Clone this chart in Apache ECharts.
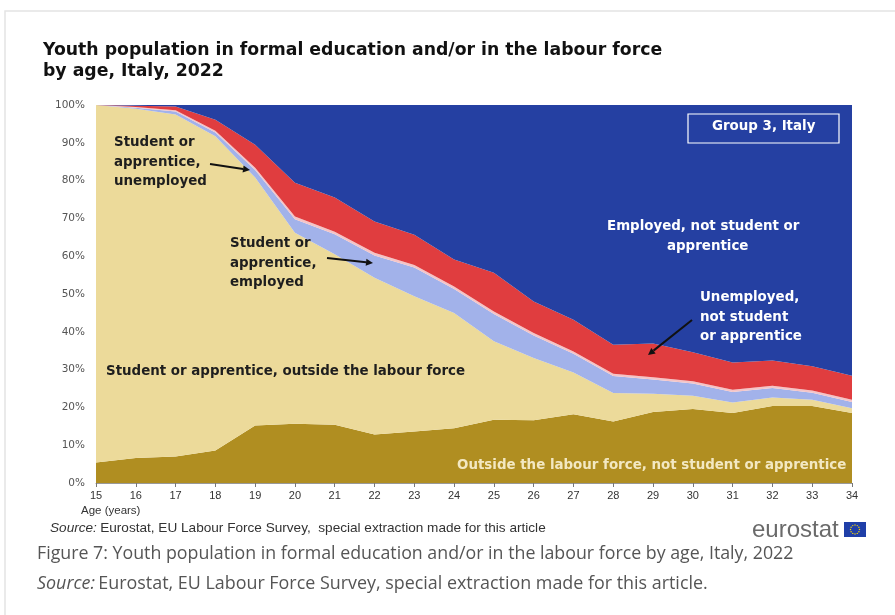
<!DOCTYPE html>
<html>
<head>
<meta charset="utf-8">
<script src="https://cdn.jsdelivr.net/npm/echarts@6/dist/echarts.min.js"></script>
<style>
  html, body { margin: 0; padding: 0; background: #fff; }
  #chart { width: 895px; height: 615px; }
</style>
</head>
<body>
<div id="chart"></div>
<script>
// ages on the x axis
var ages = ['15', '16', '17', '18', '19', '20', '21', '22', '23', '24', '25', '26', '27', '28', '29', '30', '31', '32', '33', '34'];

// shares in % (stacked bottom -> top)
var outsideNotStudent = [5.4, 6.6, 7.0, 8.6, 15.2, 15.7, 15.4, 12.8, 13.6, 14.5, 16.7, 16.6, 18.2, 16.3, 18.8, 19.6, 18.5, 20.4, 20.4, 18.5];
var studentOutside    = [94.6, 92.4, 90.5, 83.1, 65.6, 50.5, 45.1, 41.5, 35.8, 30.5, 20.8, 16.5, 11.0, 7.5, 4.8, 3.5, 2.8, 2.2, 1.6, 1.3];
var studentEmployed   = [0, 0.3, 0.8, 1.0, 2.0, 3.6, 5.3, 5.9, 7.6, 6.3, 7.2, 5.9, 5.0, 4.5, 3.8, 3.2, 2.8, 2.5, 1.9, 1.6];
var studentUnemployed = [0, 0.2, 0.3, 0.5, 0.6, 0.7, 0.7, 0.7, 0.7, 0.7, 0.7, 0.7, 0.6, 0.6, 0.6, 0.6, 0.6, 0.6, 0.6, 0.6];
var unemployedNotStudent = [0, 0.3, 1.0, 2.9, 6.1, 8.9, 9.0, 8.3, 8.0, 7.1, 10.2, 8.3, 8.4, 7.7, 8.9, 7.7, 7.2, 6.7, 6.4, 6.4];
var employedNotStudent   = [0, 0.2, 0.4, 3.9, 10.5, 20.6, 24.5, 30.8, 34.3, 40.9, 44.4, 52.0, 56.8, 63.4, 63.1, 65.4, 68.1, 67.6, 69.1, 71.6];

var yTicks = [0, 10, 20, 30, 40, 50, 60, 70, 80, 90, 100];

var chart = echarts.init(document.getElementById('chart'));

function layer(name, data, color) {
    return {
        name: name,
        type: 'line',
        stack: 'total',
        data: data,
        symbol: 'none',
        smooth: false,
        lineStyle: { width: 0 },
        areaStyle: { color: color, opacity: 1 },
        itemStyle: { color: color },
        emphasis: { disabled: true },
        z: 2
    };
}

// little arrow: line + head
function arrow(x1, y1, x2, y2) {
    var a = Math.atan2(y2 - y1, x2 - x1);
    var L = 7, W = 3.5;
    var bx = x2 - L * Math.cos(a), by = y2 - L * Math.sin(a);
    return [{
        type: 'line',
        shape: { x1: x1, y1: y1, x2: bx, y2: by },
        style: { stroke: '#111', lineWidth: 2 },
        z: 20
    }, {
        type: 'polygon',
        shape: { points: [[x2, y2], [bx + W * Math.sin(a), by - W * Math.cos(a)], [bx - W * Math.sin(a), by + W * Math.cos(a)]] },
        style: { fill: '#111' },
        z: 20
    }];
}

var annFont = 'bold 13.4px "DejaVu Sans", Verdana, sans-serif';

function label(x, y, txt, color) {
    return {
        type: 'text',
        left: x, top: y,
        style: {
            text: txt,
            font: annFont,
            fill: color,
            lineHeight: 19.5
        },
        z: 20
    };
}

// EU flag stars
var stars = [];
for (var i = 0; i < 12; i++) {
    var ang = i * Math.PI / 6;
    stars.push({
        type: 'circle',
        shape: { cx: 855 + 4.5 * Math.cos(ang), cy: 529.5 + 4.5 * Math.sin(ang), r: 0.7 },
        style: { fill: '#ffdd00' },
        z: 21
    });
}

var graphics = [
    // outer frame
    { type: 'rect', shape: { x: 5, y: 11, width: 1000, height: 700 }, style: { fill: 'none', stroke: '#e4e4e4', lineWidth: 1.5 }, z: 0 },
    { type: 'text', left: 43, top: 40, style: { text: 'Youth population in formal education and/or in the labour force\nby age, Italy, 2022', font: 'bold 17.3px "DejaVu Sans", Verdana, sans-serif', fill: '#111', lineHeight: 21 }, z: 20 },
    // group box
    { type: 'rect', shape: { x: 688, y: 114, width: 151, height: 29 }, style: { fill: 'none', stroke: '#ffffff', lineWidth: 1.2 }, z: 20 },
    { type: 'text', left: 712, top: 120, style: { text: 'Group 3, Italy', font: annFont, fill: '#ffffff' }, z: 20 },
    label(114, 133, 'Student or\napprentice,\nunemployed', '#1e1e1e'),
    label(230, 234, 'Student or\napprentice,\nemployed', '#1e1e1e'),
    label(106, 362, 'Student or apprentice, outside the labour force', '#1e1e1e'),
    label(607, 217, 'Employed, not student or', '#ffffff'),
    label(667, 237, 'apprentice', '#ffffff'),
    label(700, 288, 'Unemployed,\nnot student\nor apprentice', '#ffffff'),
    label(457, 456, 'Outside the labour force, not student or apprentice', '#f3e8c2'),
    // source & logo
    { type: 'text', left: 50, top: 521, style: { rich: { i: { fontStyle: 'italic', fontSize: 13.6, fontFamily: 'Liberation Sans', fill: '#333' }, n: { fontSize: 13.6, fontFamily: 'Liberation Sans', fill: '#333' } }, text: '{i|Source:} {n|Eurostat, EU Labour Force Survey,  special extraction made for this article}' }, z: 20 },
    { type: 'text', left: 752, top: 518, style: { text: 'eurostat', font: '24px "Liberation Sans", Arial, sans-serif', fill: '#6a6a6a' }, z: 20 },
    { type: 'rect', shape: { x: 844, y: 522, width: 22, height: 15 }, style: { fill: '#1f3fa8' }, z: 20 },
    // caption under the figure
    { type: 'text', left: 37, top: 545, style: { text: 'Figure 7: Youth population in formal education and/or in the labour force by age, Italy, 2022', font: '17.8px "Open Sans", sans-serif', fill: '#555' }, z: 20 },
    { type: 'text', left: 37, top: 575, style: { rich: { i: { fontStyle: 'italic', fontSize: 17.9, fontFamily: 'Open Sans', fill: '#555' }, n: { fontSize: 17.9, fontFamily: 'Open Sans', fill: '#555' } }, text: '{i|Source:} {n|Eurostat, EU Labour Force Survey, special extraction made for this article.}' }, z: 20 },
    { type: 'text', left: 81, top: 505, style: { text: 'Age (years)', font: '11.5px "Liberation Sans", Arial, sans-serif', fill: '#333' }, z: 20 }
].concat(stars)
 .concat(arrow(210, 164, 250, 170))
 .concat(arrow(327, 258, 373, 263))
 .concat(arrow(692, 320, 648, 355));

chart.setOption({
    backgroundColor: '#fff',
    animation: false,
    grid: { left: 96, right: 43, top: 105, bottom: 132 },
    xAxis: {
        type: 'category',
        data: ages,
        boundaryGap: false,
        axisLine: { lineStyle: { color: '#999', width: 1 } },
        axisTick: { show: true, alignWithLabel: true, length: 4, lineStyle: { color: '#777' } },
        axisLabel: { color: '#333', fontSize: 11, fontFamily: 'Liberation Sans', margin: 7 },
        z: 10
    },
    yAxis: {
        type: 'value',
        min: 0,
        max: 100,
        interval: 10,
        axisLine: { show: false },
        axisTick: { show: false },
        splitLine: { show: false },
        axisLabel: {
            color: '#555', fontSize: 10.5, fontFamily: 'DejaVu Sans', margin: 11,
            formatter: function(v) { return yTicks.indexOf(v) >= 0 ? v + '%' : ''; }
        }
    },
    series: [
        layer('Outside the labour force, not student or apprentice', outsideNotStudent, '#b08e21'),
        layer('Student or apprentice, outside the labour force', studentOutside, '#ecda9a'),
        layer('Student or apprentice, employed', studentEmployed, '#a2b2ea'),
        layer('Student or apprentice, unemployed', studentUnemployed, '#f5c4c6'),
        layer('Unemployed, not student or apprentice', unemployedNotStudent, '#e03d3f'),
        layer('Employed, not student or apprentice', employedNotStudent, '#2540a2')
    ],
    graphic: graphics
});
</script>
</body>
</html>
